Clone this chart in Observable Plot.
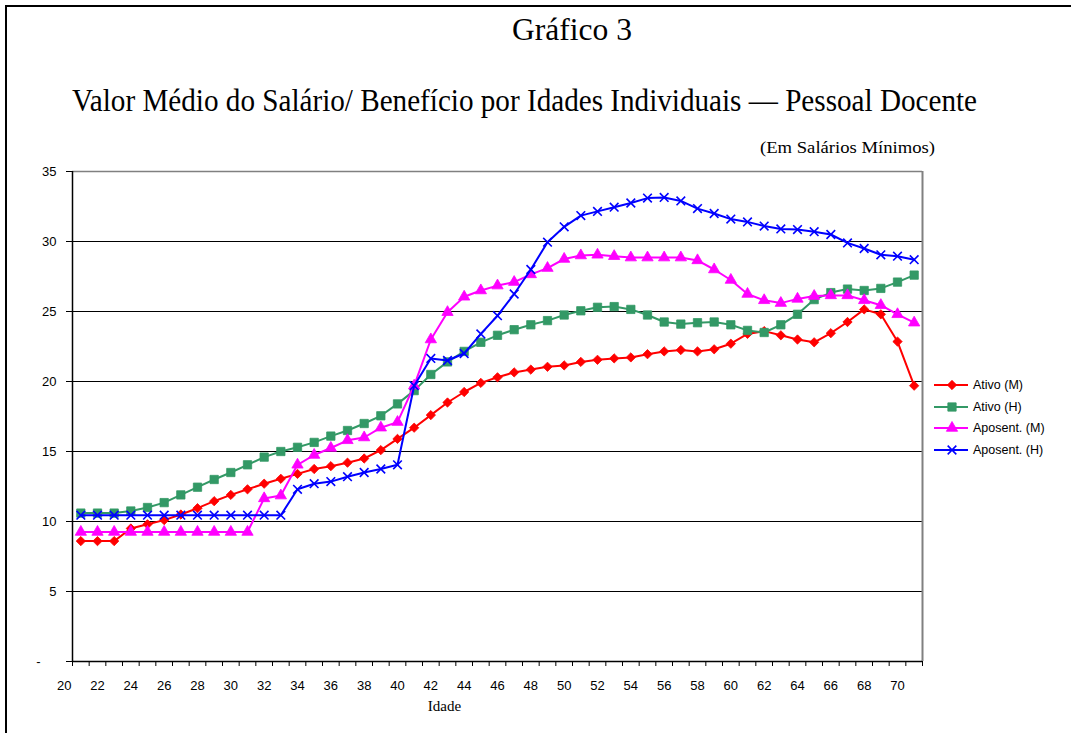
<!DOCTYPE html>
<html><head><meta charset="utf-8">
<script src="https://cdn.jsdelivr.net/npm/d3@7"></script>
<script src="https://cdn.jsdelivr.net/npm/@observablehq/plot@0.6"></script>
<style>
body{margin:0;background:#fff;}
#wrap{position:relative;width:1071px;height:733px;overflow:hidden;background:#fff;}
#frame{position:absolute;left:5px;top:5px;width:1200px;height:900px;border-left:2px solid #000;border-top:2px solid #000;}
#header{position:absolute;left:0;top:0;}
#chart{position:absolute;left:0;top:160px;}
#legend{position:absolute;left:930px;top:374px;font:12.5px "Liberation Sans",Arial,sans-serif;color:#000;}
#legend .row{display:flex;align-items:center;height:21.7px;}
#legend svg{display:block;margin-right:3px;}
</style></head>
<body><div id="wrap"><div id="frame"></div>
<svg id="header" width="1071" height="160" font-family="'Liberation Serif','Times New Roman',serif" fill="#000">
<text x="572" y="40" font-size="32" text-anchor="middle" textLength="120" lengthAdjust="spacingAndGlyphs">Gráfico 3</text>
<text x="72" y="111" font-size="32" textLength="905" lengthAdjust="spacingAndGlyphs">Valor Médio do Salário/  Benefício por Idades Individuais — Pessoal Docente</text>
<text x="760" y="153" font-size="16" textLength="175" lengthAdjust="spacingAndGlyphs">(Em Salários  Mínimos)</text>
</svg>
<div id="chart"></div><div id="legend"></div></div>
<script>
const ages = [21,22,23,24,25,26,27,28,29,30,31,32,33,34,35,36,37,38,39,40,41,42,43,44,45,46,47,48,49,50,51,52,53,54,55,56,57,58,59,60,61,62,63,64,65,66,67,68,69,70,71];
const ativoM = [8.6,8.6,8.6,9.5,9.8,10.1,10.5,10.95,11.45,11.9,12.3,12.7,13.05,13.4,13.75,13.95,14.2,14.5,15.1,15.9,16.7,17.6,18.5,19.25,19.9,20.3,20.65,20.85,21.05,21.15,21.4,21.55,21.65,21.72,21.95,22.15,22.25,22.15,22.3,22.7,23.4,23.6,23.3,23.0,22.8,23.45,24.25,25.15,24.8,22.85,19.7];
const ativoH = [10.6,10.6,10.6,10.75,11.0,11.35,11.9,12.45,13.0,13.5,14.05,14.6,15.0,15.3,15.65,16.1,16.5,17.0,17.55,18.4,19.35,20.5,21.4,22.15,22.8,23.3,23.7,24.05,24.35,24.75,25.05,25.3,25.35,25.15,24.75,24.25,24.1,24.2,24.25,24.05,23.65,23.5,24.05,24.8,25.85,26.35,26.6,26.5,26.65,27.1,27.6];
const aposM = [9.25,9.25,9.25,9.25,9.25,9.25,9.25,9.25,9.25,9.25,9.25,11.65,11.85,14.05,14.75,15.25,15.8,16.0,16.7,17.1,19.7,23.0,24.95,26.05,26.5,26.85,27.1,27.65,28.1,28.75,29.0,29.05,28.95,28.85,28.85,28.85,28.85,28.65,28.0,27.25,26.25,25.8,25.6,25.9,26.1,26.15,26.15,25.8,25.45,24.8,24.2];
const aposH = [10.45,10.45,10.45,10.45,10.45,10.45,10.45,10.45,10.45,10.45,10.45,10.45,10.45,12.3,12.7,12.85,13.2,13.5,13.75,14.05,19.7,21.65,21.5,22.0,23.4,24.7,26.25,28.0,29.95,31.05,31.85,32.15,32.45,32.75,33.1,33.15,32.9,32.35,32.0,31.6,31.4,31.1,30.9,30.85,30.7,30.5,29.9,29.5,29.05,28.95,28.7];
const seriesNames = ["Ativo (M)", "Ativo (H)", "Aposent. (M)", "Aposent. (H)"];
const seriesColors = ["#ff0000", "#339966", "#ff00ff", "#0000ff"];
const seriesSymbols = ["diamond2", "square", "triangle", "times"];
const seriesR = [4.2, 4.7, 4.2, 4];
const seriesValues = [ativoM, ativoH, aposM, aposH];
const yTicks = [0,5,10,15,20,25,30,35];
const xLabels = [20,22,24,26,28,30,32,34,36,38,40,42,44,46,48,50,52,54,56,58,60,62,64,66,68,70];
const xTickEdges = [20.5,21.5,22.5,23.5,24.5,25.5,26.5,27.5,28.5,29.5,30.5,31.5,32.5,33.5,34.5,35.5,36.5,37.5,38.5,39.5,40.5,41.5,42.5,43.5,44.5,45.5,46.5,47.5,48.5,49.5,50.5,51.5,52.5,53.5,54.5,55.5,56.5,57.5,58.5,59.5,60.5,61.5,62.5,63.5,64.5,65.5,66.5,67.5,68.5,69.5,70.5,71.5];
const xTitle = "Idade";

const rows = [];
seriesNames.forEach((name, i) => ages.forEach((a, j) => rows.push({serie: name, idx: i, age: a, v: seriesValues[i][j]})));

const seriesMarks = [];
seriesNames.forEach((name, i) => {
  const d = rows.filter(r => r.idx === i);
  seriesMarks.push(Plot.line(d, {x: "age", y: "v", stroke: seriesColors[i], strokeWidth: 2}));
  if (seriesSymbols[i] === "times") {
    seriesMarks.push(Plot.dot(d, {x: "age", y: "v", symbol: "times", r: seriesR[i], stroke: seriesColors[i], strokeWidth: 1.6, fill: "none"}));
  } else {
    seriesMarks.push(Plot.dot(d, {x: "age", y: "v", symbol: seriesSymbols[i], r: seriesR[i], fill: seriesColors[i], stroke: seriesColors[i], strokeWidth: 0.8}));
  }
});

const chart = Plot.plot({
  width: 1071, height: 573,
  marginLeft: 72, marginRight: 149, marginTop: 11, marginBottom: 72,
  x: {domain: [20.5, 71.5]},
  y: {domain: [0, 35]},
  style: {fontFamily: "'Liberation Sans', Arial, sans-serif", fontSize: "13px", background: "transparent", overflow: "visible", color: "#000"},
  marks: [
    Plot.ruleY(yTicks.filter(d => d > 0 && d < 35), {stroke: "#000", strokeWidth: 1}),
    Plot.ruleY([35], {stroke: "#808080", strokeWidth: 1.5}),
    Plot.ruleX([71.5], {stroke: "#808080", strokeWidth: 2}),
    Plot.axisY({ticks: yTicks, tickFormat: d => d === 0 ? "" : String(d), tickSize: 6, tickPadding: 10, label: null, fontSize: 13}),
    Plot.text([{x: 20.5, y: 0, t: "-"}], {x: "x", y: "y", text: "t", dx: -34, fontSize: 13}),
    Plot.axisX({ticks: xTickEdges, tickFormat: () => "", tickSize: 5, label: null}),
    Plot.text(xLabels, {x: d => d, y: () => 0, dy: 24, text: d => String(d), fontSize: 13}),
    Plot.text([xTitle], {frameAnchor: "bottom", dx: -53, dy: 49, fontFamily: "'Liberation Serif', 'Times New Roman', serif", fontSize: 15}),
    Plot.ruleX([20.5], {stroke: "#000", strokeWidth: 1.5}),
    Plot.ruleY([0], {stroke: "#000", strokeWidth: 1.5}),
    ...seriesMarks
  ]
});
document.getElementById("chart").appendChild(chart);

// legend
const legend = d3.select("#legend");
seriesNames.forEach((name, i) => {
  const row = legend.append("div").attr("class", "row");
  const svg = row.append("svg").attr("width", 40).attr("height", 14);
  svg.append("line").attr("x1", 4).attr("x2", 38).attr("y1", 7).attr("y2", 7).attr("stroke", seriesColors[i]).attr("stroke-width", 2);
  const sym = {diamond2: d3.symbolDiamond2, square: d3.symbolSquare, triangle: d3.symbolTriangle, times: d3.symbolTimes}[seriesSymbols[i]];
  const p = svg.append("path").attr("transform", "translate(22,7)").attr("d", d3.symbol(sym, Math.PI * seriesR[i] * seriesR[i])());
  if (seriesSymbols[i] === "times") p.attr("fill", "none").attr("stroke", seriesColors[i]).attr("stroke-width", 1.6);
  else p.attr("fill", seriesColors[i]).attr("stroke", seriesColors[i]).attr("stroke-width", 0.8);
  row.append("span").text(name);
});
</script>
</body></html>
